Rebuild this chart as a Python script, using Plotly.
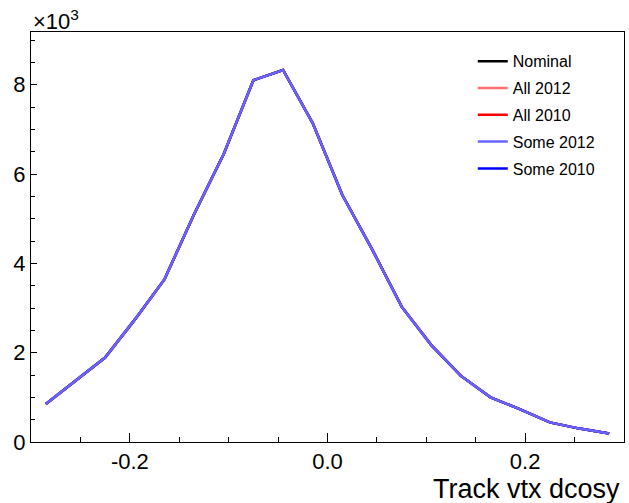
import plotly.graph_objects as go

# bin centres of "Track vtx dcosy"
x_centers = [-0.285, -0.255, -0.225, -0.195, -0.165, -0.135, -0.105, -0.075, -0.045, -0.015,
             0.015, 0.045, 0.075, 0.105, 0.135, 0.165, 0.195, 0.225, 0.255, 0.285]

nominal   = [850, 1360, 1890, 2740, 3640, 5100, 6450, 8100, 8330, 7140,
             5530, 4320, 3030, 2170, 1480, 1000, 730, 440, 300, 190]
all_2012  = [850, 1360, 1890, 2740, 3640, 5100, 6450, 8100, 8330, 7140,
             5530, 4320, 3030, 2170, 1480, 1000, 730, 440, 300, 190]
all_2010  = [850, 1360, 1890, 2740, 3640, 5100, 6450, 8100, 8330, 7140,
             5530, 4320, 3030, 2170, 1480, 1000, 730, 440, 300, 190]
some_2012 = [850, 1360, 1890, 2740, 3640, 5100, 6450, 8100, 8330, 7140,
             5530, 4320, 3030, 2170, 1480, 1000, 730, 440, 300, 190]
some_2010 = [850, 1360, 1890, 2740, 3640, 5100, 6450, 8100, 8330, 7140,
             5530, 4320, 3030, 2170, 1480, 1000, 730, 440, 300, 190]

series_names = ["Nominal", "All 2012", "All 2010", "Some 2012", "Some 2010"]
series_vals = [nominal, all_2012, all_2010, some_2012, some_2010]
series_colors = ["#000000", "#ff7070", "#ff0000", "#6666ff", "#0000ff"]
draw_order = [0, 1, 2, 4, 3]

y_tickvals = [0, 2000, 4000, 6000, 8000]
y_ticktext = ["0", "2", "4", "6", "8"]
x_tickvals = [-0.2, 0.0, 0.2]
x_ticktext = ["-0.2", "0.0", "0.2"]

FONT = "Liberation Sans, Arial, Helvetica, sans-serif"

fig = go.Figure()
for i in draw_order:
    fig.add_trace(go.Scatter(
        x=x_centers, y=series_vals[i], mode="lines", name=series_names[i],
        line=dict(color=series_colors[i], width=2.5),
        legendrank=i + 1, legendgroup=series_names[i],
    ))

fig.update_layout(
    width=629, height=503,
    margin=dict(l=31, r=5, t=32, b=61),
    paper_bgcolor="white", plot_bgcolor="white",
    font=dict(family=FONT, color="black"),
    showlegend=True,
    legend=dict(
        x=0.745, y=0.97, xanchor="left", yanchor="top",
        font=dict(size=16, family=FONT),
        bgcolor="rgba(255,255,255,0)", borderwidth=0,
        tracegroupgap=3, itemwidth=30,
    ),
    xaxis=dict(
        range=[-0.3, 0.3], showgrid=False, zeroline=False,
        showline=True, linecolor="black", linewidth=1, mirror=True,
        ticks="inside", ticklen=9, tickcolor="black", tickwidth=1,
        tickvals=x_tickvals, ticktext=x_ticktext,
        tickfont=dict(size=22, family=FONT),
        minor=dict(ticks="inside", ticklen=5, dtick=0.05, tick0=0, tickcolor="black", showgrid=False),
    ),
    yaxis=dict(
        range=[0, 9180], showgrid=False, zeroline=False,
        showline=True, linecolor="black", linewidth=1, mirror=True,
        ticks="inside", ticklen=6, tickcolor="black", tickwidth=1,
        tickvals=y_tickvals, ticktext=y_ticktext,
        tickfont=dict(size=22, family=FONT),
        minor=dict(ticks="inside", ticklen=4, dtick=500, tick0=0, tickcolor="black", showgrid=False),
    ),
    annotations=[
        dict(text="×10<sup>3</sup>", xref="paper", yref="paper",
             x=0.0, y=0.99, xanchor="left", yanchor="bottom",
             showarrow=False, font=dict(size=22, family=FONT)),
        dict(text="Track vtx dcosy", xref="paper", yref="paper",
             x=0.997, y=-0.155, xanchor="right", yanchor="bottom",
             showarrow=False, font=dict(size=27, family=FONT)),
    ],
)

fig.write_html("out.html")
